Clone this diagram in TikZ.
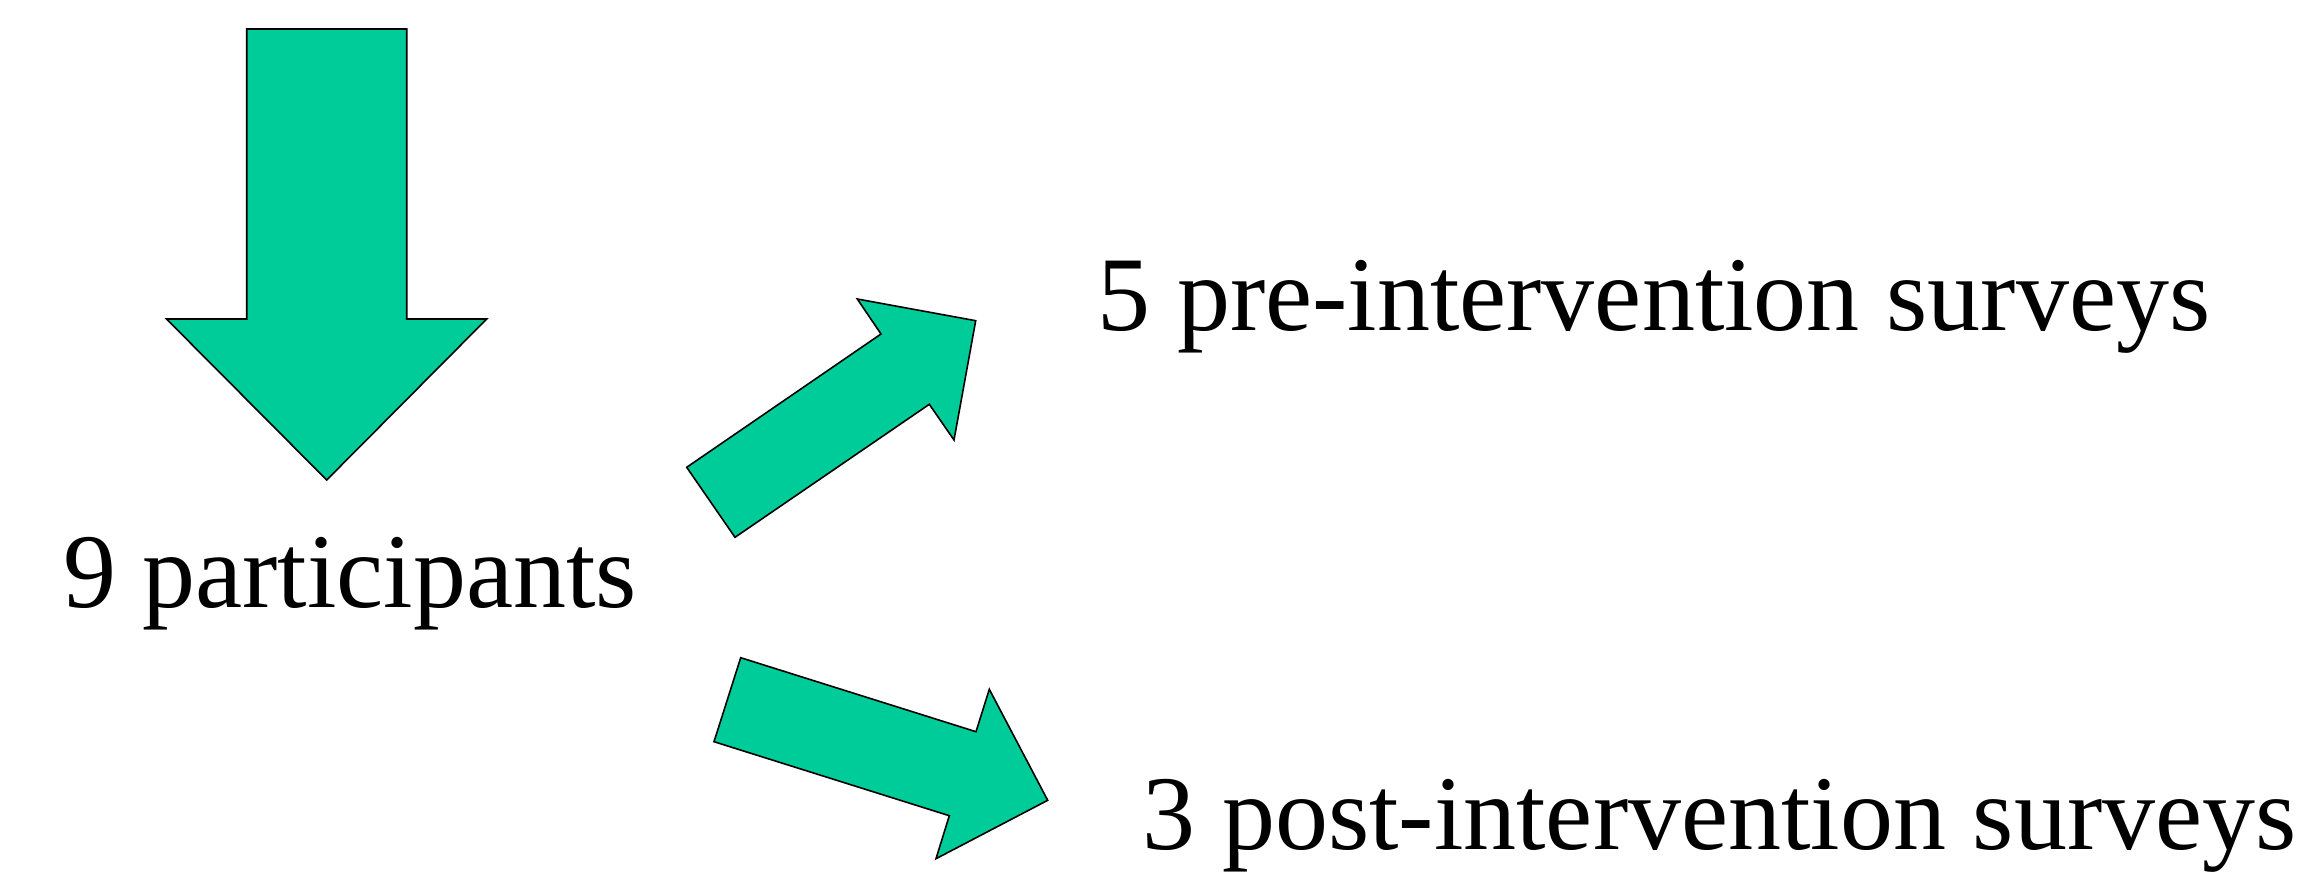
\documentclass[tikz,border=0pt]{standalone}
\usepackage{fontspec}
\setmainfont{Liberation Serif}
\definecolor{blockgreen}{RGB}{0,204,153}
\tikzset{
  blockarrow/.style={fill=blockgreen, draw=black, line width=1.6pt, line join=miter},
  label/.style={anchor=base west, inner sep=0pt, outer sep=0pt,
                font=\fontsize{106}{120}\selectfont}
}
\begin{document}
\begin{tikzpicture}[x=1pt, y=-1pt]
  \useasboundingbox (0,0) rectangle (2314,875);

  % downward block arrow above the participants
  \draw[blockarrow] (246.7,29) -- (406.7,29) -- (406.7,319) -- (486.7,319)
    -- (326.7,480) -- (166.5,319) -- (246.7,319) -- cycle;

  % arrow towards the pre-intervention surveys
  \draw[blockarrow] (686.7,467.3) -- (881,334) -- (857.3,299) -- (975.7,320.7)
    -- (954,440) -- (929.3,404.3) -- (735,537.3) -- cycle;

  % arrow towards the post-intervention surveys
  \draw[blockarrow] (740.7,657.7) -- (976,731.7) -- (989.3,689.3) -- (1047.7,800.3)
    -- (936,858.7) -- (949.3,815.7) -- (714,741.7) -- cycle;

  \node[label] (participants) at (63,607.3) {9 participants};
  \node[label] (pre) at (1097.5,330) {5 pre-intervention surveys};
  \node[label] (post) at (1142.5,849.3) {3 post-intervention surveys};
\end{tikzpicture}
\end{document}
